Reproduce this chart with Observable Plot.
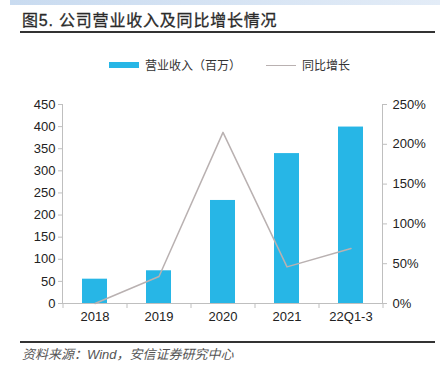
<!DOCTYPE html>
<html><head><meta charset="utf-8">
<script src="https://cdn.jsdelivr.net/npm/d3@7"></script>
<script src="https://cdn.jsdelivr.net/npm/@observablehq/plot@0.6"></script>
<style>
body{margin:0;background:#fff;width:440px;height:376px;position:relative;overflow:hidden;font-family:"Liberation Sans","Noto Sans CJK SC",sans-serif;}
#topbar{position:absolute;left:10px;top:0;width:430px;height:5px;background:linear-gradient(90deg,#c9dbf0,#e3ecf7);}
#title{position:absolute;left:22px;top:7px;font-size:16px;font-weight:normal;color:#2a2a2a;font-family:"Liberation Sans","Noto Sans CJK SC",sans-serif;letter-spacing:0.8px;-webkit-text-stroke:0.3px #2a2a2a;}
#rule1{position:absolute;left:20px;top:31px;width:415px;height:1.5px;background:#333;}
#legend{position:absolute;left:0;top:57px;width:440px;height:16px;font-size:12px;color:#333;font-family:"Noto Sans CJK SC",sans-serif;}
.sw1{position:absolute;left:109px;top:5px;width:30px;height:6px;background:#27b6e6;}
.t1{position:absolute;left:145px;top:-1px;}
.sw2{position:absolute;left:266px;top:7.5px;width:30px;height:1.5px;background:#b9b1b1;}
.t2{position:absolute;left:302px;top:-1px;}
#chart{position:absolute;left:0;top:88px;}
#rule2{position:absolute;left:20px;top:341px;width:415px;height:1.5px;background:#333;}
#source{position:absolute;left:22px;top:344px;font-size:13px;font-style:italic;color:#555;font-family:"Liberation Sans","Noto Sans CJK SC",sans-serif;}
</style></head>
<body>
<div id="topbar"></div>
<div id="title">图5. 公司营业收入及同比增长情况</div>
<div id="rule1"></div>
<div id="legend"><div class="sw1"></div><span class="t1">营业收入（百万）</span><div class="sw2"></div><span class="t2">同比增长</span></div>
<div id="chart"></div>
<div id="rule2"></div>
<div id="source">资料来源：Wind，安信证券研究中心</div>
<script>
const categories = ["2018", "2019", "2020", "2021", "22Q1-3"];
const revenue = [55, 74, 233, 339, 399];
const growth = [0, 34, 215, 46, 69];
const leftTicks = [0, 50, 100, 150, 200, 250, 300, 350, 400, 450];
const rightTicks = [0, 50, 100, 150, 200, 250];

const k = 450 / 250;
const data = categories.map((c, i) => ({cat: c, rev: revenue[i], g: growth[i]}));
const axisColor = "#bfbfbf";

const plot = Plot.plot({
  width: 440,
  height: 240,
  marginLeft: 62,
  marginRight: 58,
  marginTop: 16,
  marginBottom: 25,
  style: {fontFamily: "Liberation Sans, Arial, sans-serif", fontSize: "13px", color: "#222", background: "transparent"},
  x: {domain: categories, padding: 0.61, label: null, paddingOuter: 0.305},
  y: {domain: [0, 450], label: null},
  marks: [
    Plot.barY(data, {x: "cat", y: "rev", fill: "#27b6e6"}),
    Plot.ruleY([0], {stroke: axisColor}),
    Plot.frame({anchor: "left", stroke: axisColor}),
    Plot.frame({anchor: "right", stroke: axisColor}),
    Plot.ruleX(categories, {x: d => d, y1: 0, y2: 0, insetBottom: -5, dx: -32, stroke: axisColor}),
    Plot.ruleX([categories[categories.length - 1]], {x: d => d, y1: 0, y2: 0, insetBottom: -5, dx: 32, stroke: axisColor}),
    Plot.line(data, {x: "cat", y: d => d.g * k, stroke: "#b9b1b1", strokeWidth: 1.5}),
    Plot.axisY({anchor: "left", ticks: leftTicks, tickSize: 4, tickPadding: 3, stroke: axisColor, label: null, color: "#222"}),
    Plot.axisY({anchor: "right", ticks: rightTicks.map(v => v * k), tickFormat: d => Math.round(d / k) + "%", tickSize: 4, tickPadding: 6, stroke: axisColor, label: null}),
    Plot.axisX({tickSize: 0, tickPadding: 8, label: null})
  ]
});
document.getElementById("chart").appendChild(plot);
</script>
</body></html>
